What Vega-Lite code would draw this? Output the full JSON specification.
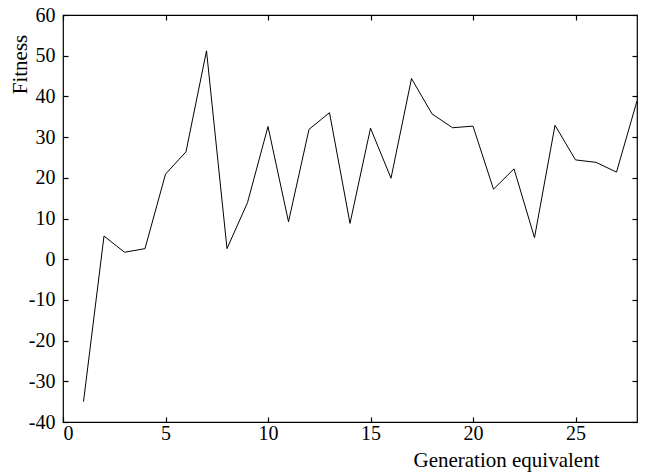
{
  "$schema": "https://vega.github.io/schema/vega-lite/v6.json",
  "width": 574,
  "height": 407,
  "autosize": {"type": "none"},
  "padding": {"left": 63, "top": 15, "right": 13, "bottom": 53},
  "background": "white",
  "config": {
    "view": {"stroke": "black", "strokeWidth": 1.2},
    "font": "Liberation Serif",
    "axis": {
      "grid": false,
      "domain": false,
      "tickColor": "black",
      "tickSize": -5,
      "tickWidth": 1.2,
      "labelFont": "Liberation Serif",
      "labelFontSize": 20,
      "labelColor": "black",
      "labelExpr": "datum.value + ''",
      "titleFont": "Liberation Serif",
      "titleFontSize": 21,
      "titleFontWeight": "normal",
      "titleColor": "black"
    }
  },
  "data": {
    "values": [
      {"gen": 1, "fitness": -35.0},
      {"gen": 2, "fitness": 5.7},
      {"gen": 3, "fitness": 1.7},
      {"gen": 4, "fitness": 2.6},
      {"gen": 5, "fitness": 20.9},
      {"gen": 6, "fitness": 26.4},
      {"gen": 7, "fitness": 51.2},
      {"gen": 8, "fitness": 2.6},
      {"gen": 9, "fitness": 13.9},
      {"gen": 10, "fitness": 32.6},
      {"gen": 11, "fitness": 9.2},
      {"gen": 12, "fitness": 31.9},
      {"gen": 13, "fitness": 36.0},
      {"gen": 14, "fitness": 8.8},
      {"gen": 15, "fitness": 32.2},
      {"gen": 16, "fitness": 19.9},
      {"gen": 17, "fitness": 44.4},
      {"gen": 18, "fitness": 35.7},
      {"gen": 19, "fitness": 32.3},
      {"gen": 20, "fitness": 32.7},
      {"gen": 21, "fitness": 17.2},
      {"gen": 22, "fitness": 22.2},
      {"gen": 23, "fitness": 5.3},
      {"gen": 24, "fitness": 32.9},
      {"gen": 25, "fitness": 24.4},
      {"gen": 26, "fitness": 23.8},
      {"gen": 27, "fitness": 21.4},
      {"gen": 28, "fitness": 38.9}
    ]
  },
  "layer": [
    {
      "mark": {"type": "line", "color": "black", "strokeWidth": 1, "clip": true},
      "encoding": {
        "x": {
          "field": "gen", "type": "quantitative",
          "scale": {"domain": [0, 28], "nice": false, "zero": false},
          "axis": {"orient": "bottom", "values": [0, 5, 10, 15, 20, 25], "title": "Generation equivalent",
                   "labelPadding": 6, "titleX": 443, "titleY": 44, "titleAlign": "center", "titleBaseline": "alphabetic"}
        },
        "y": {
          "field": "fitness", "type": "quantitative",
          "scale": {"domain": [-40, 60], "nice": false, "zero": false},
          "axis": {"orient": "left", "values": [-40, -30, -20, -10, 0, 10, 20, 30, 40, 50, 60], "title": "Fitness",
                   "labelPadding": 13, "titleX": -43, "titleY": 49, "titleAlign": "center", "titleBaseline": "middle", "titleAngle": -90}
        }
      }
    },
    {
      "mark": {"type": "line", "opacity": 0},
      "encoding": {
        "x": {
          "field": "gen", "type": "quantitative",
          "axis": {"orient": "top", "values": [0, 5, 10, 15, 20, 25], "labels": false, "title": null}
        },
        "y": {
          "field": "fitness", "type": "quantitative",
          "axis": {"orient": "right", "values": [-40, -30, -20, -10, 0, 10, 20, 30, 40, 50, 60], "labels": false, "title": null}
        }
      }
    }
  ],
  "resolve": {"axis": {"x": "independent", "y": "independent"}}
}
